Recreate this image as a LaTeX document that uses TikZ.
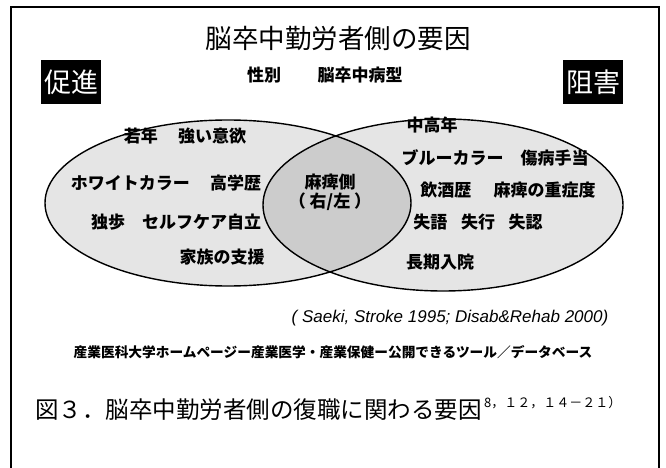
\documentclass[tikz,border=0pt]{standalone}
\usepackage{fontspec}
\setmainfont{Liberation Sans}
\newfontfamily\jp{Noto Sans CJK JP}
\begin{document}
\begin{tikzpicture}[x=1pt,y=-1pt,
  lbl/.style={font=\jp\bfseries\fontsize{17}{19}\selectfont, inner sep=0pt},
  tag/.style={fill=black, text=white, font=\jp\fontsize{27}{29}\selectfont, inner xsep=3pt, inner ysep=2pt, minimum height=44pt},
  venn/.style={line width=1.4pt, draw=black}
]
\useasboundingbox (0,0) rectangle (666,468);
% frame
\coordinate (f1) at (11,480);
\coordinate (f2) at (11,7);
\coordinate (f3) at (659,7);
\coordinate (f4) at (659,480);
\draw[line width=1.5pt] (f1) -- (f2) -- (f3) -- (f4);
% title
\node[font=\jp\fontsize{26.5}{29}\selectfont] (title) at (338,38) {脳卒中勤労者側の要因};
\node[lbl] (sex) at (264,75) {性別};
\node[lbl] (type) at (360,75) {脳卒中病型};
\node[tag] (prom) at (71,82) {促進};
\node[tag] (inh) at (593,82) {阻害};
% ellipses
\coordinate (cl) at (228,203);
\coordinate (cr) at (443,205);
\fill[gray!20] (cl) ellipse [x radius=183pt, y radius=83pt];
\fill[gray!20] (cr) ellipse [x radius=180pt, y radius=86pt];
\begin{scope}
  \clip (cl) ellipse [x radius=183pt, y radius=83pt];
  \fill[gray!40] (cr) ellipse [x radius=180pt, y radius=86pt];
\end{scope}
\draw[venn] (cl) ellipse [x radius=183pt, y radius=83pt];
\draw[venn] (cr) ellipse [x radius=180pt, y radius=86pt];
% left texts
\node[lbl] (l1) at (185,136) {若年\hspace{1.2em}強い意欲};
\node[lbl] (l2) at (166,183) {ホワイトカラー\hspace{1.2em}高学歴};
\node[lbl] (l3) at (176,222) {独歩\hspace{1em}セルフケア自立};
\node[lbl] (l4) at (222,257) {家族の支援};
% centre
\node[lbl, align=center] (c1) at (330,192) {麻痺側\\（ 右/左 ）};
% right texts
\node[lbl] (r1) at (432,125) {中高年};
\node[lbl] (r2) at (495,158) {ブルーカラー\hspace{1em}傷病手当};
\node[lbl] (r3) at (508,190) {飲酒歴\hspace{1.3em}麻痺の重症度};
\node[lbl] (r4) at (478,222) {失語\hspace{0.8em}失行\hspace{0.8em}失認};
\node[lbl] (r5) at (440,262) {長期入院};
% citation
\node[font=\itshape\fontsize{17}{19}\selectfont] (cit) at (450,318) {( Saeki, Stroke 1995; Disab\&Rehab 2000)};
\node[font=\jp\bfseries\fontsize{13.7}{15}\selectfont] (url) at (333,352) {産業医科大学ホームページー産業医学・産業保健ー公開できるツール／データベース};
% caption
\node[anchor=west, font=\jp\fontsize{23.5}{26}\selectfont, inner sep=0pt] (cap) at (35,410) {図３．脳卒中勤労者側の復職に関わる要因};
\node[anchor=west, font=\jp\fontsize{13}{14}\selectfont, inner sep=0pt] (sup) at ([xshift=2pt,yshift=7pt]cap.east) {8，１２，１４－２１）};
\end{tikzpicture}
\end{document}
